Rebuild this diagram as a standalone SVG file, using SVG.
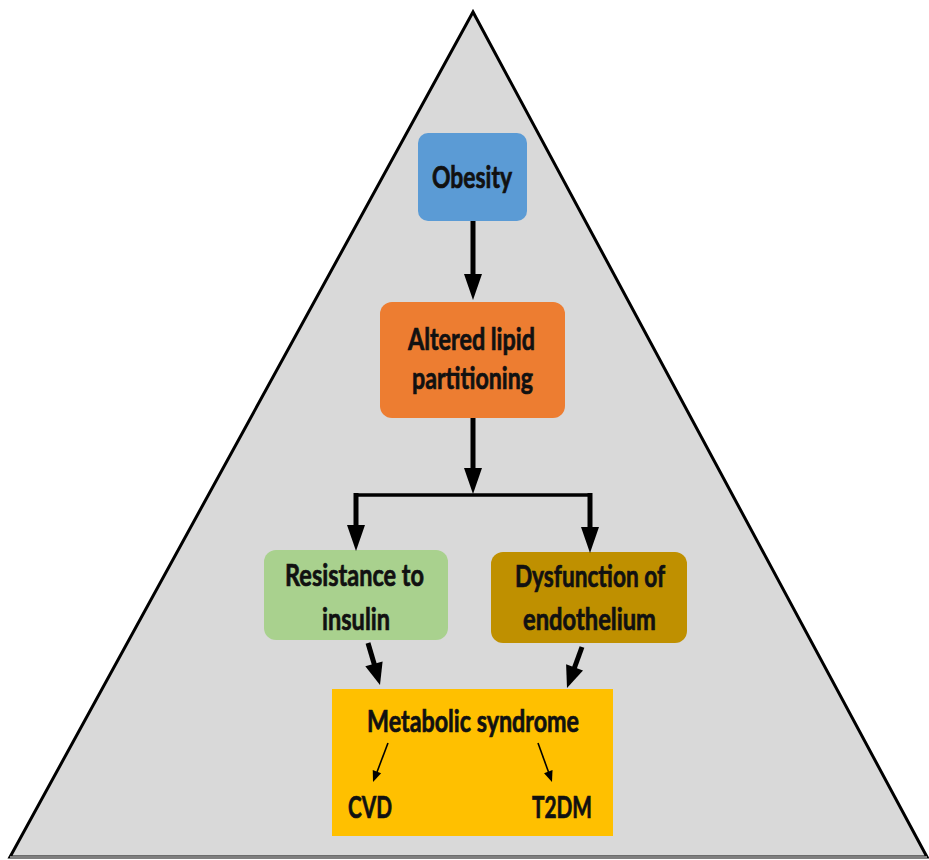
<svg xmlns="http://www.w3.org/2000/svg" width="929" height="860" viewBox="0 0 929 860">
  <style>
    .lbl { font-family: Lato, "Open Sans", "Liberation Sans", sans-serif; font-weight: bold; font-size: 30px; fill: #111; stroke: #111; stroke-width: 0.7; }
    .big { stroke: #000; stroke-width: 5; fill: none; }
    .small { stroke: #000; stroke-width: 1.6; fill: none; }
    .head { fill: #000; }
  </style>
  <rect width="929" height="860" fill="#fff"/>
  <g id="pyramid">
    <polygon points="473,12 10,857 927,857" fill="#D9D9D9" stroke="#000" stroke-width="3" stroke-linejoin="miter"/>
    <line x1="10" y1="857.5" x2="927" y2="857.5" stroke="#7f7f7f" stroke-width="3"/>
  </g>
  <g id="obesity">
    <rect x="418" y="133" width="109" height="88" rx="10" fill="#5B9BD5"/>
    <text class="lbl" x="432" y="188" textLength="80" lengthAdjust="spacingAndGlyphs">Obesity</text>
  </g>
  <g id="altered">
    <rect x="380" y="302" width="185" height="116" rx="12" fill="#ED7D31"/>
    <text class="lbl" x="408" y="350" textLength="127" lengthAdjust="spacingAndGlyphs">Altered lipid</text>
    <text class="lbl" x="412" y="389" textLength="121" lengthAdjust="spacingAndGlyphs">partitioning</text>
  </g>
  <g id="resistance">
    <rect x="264" y="550" width="184" height="90" rx="12" fill="#A9D18E"/>
    <text class="lbl" x="285" y="586" textLength="139" lengthAdjust="spacingAndGlyphs">Resistance to</text>
    <text class="lbl" x="322" y="630" textLength="68" lengthAdjust="spacingAndGlyphs">insulin</text>
  </g>
  <g id="dysfunction">
    <rect x="491" y="552" width="196" height="91" rx="12" fill="#BF9000"/>
    <text class="lbl" x="515" y="587" textLength="150" lengthAdjust="spacingAndGlyphs">Dysfunction of</text>
    <text class="lbl" x="523" y="630" textLength="133" lengthAdjust="spacingAndGlyphs">endothelium</text>
  </g>
  <g id="metabolic">
    <rect x="332" y="689" width="281" height="147" fill="#FFC000"/>
    <text class="lbl" x="367" y="732" textLength="212" lengthAdjust="spacingAndGlyphs">Metabolic syndrome</text>
    <text class="lbl" x="348" y="818" textLength="44" lengthAdjust="spacingAndGlyphs">CVD</text>
    <text class="lbl" x="532" y="818" textLength="60" lengthAdjust="spacingAndGlyphs">T2DM</text>
  </g>
  <g id="connectors">
    <path class="big" d="M473,221 L473,276"/>
    <polygon class="head" points="464,274 482,274 473,300"/>
    <path class="big" d="M473,418 L473,470"/>
    <polygon class="head" points="464,468 482,468 473,494"/>
    <path d="M356,495 L590,495" stroke="#000" stroke-width="3.5" fill="none"/>
    <path class="big" d="M356,493 L356,527"/>
    <polygon class="head" points="347,525 365,525 356,551"/>
    <path class="big" d="M590,493 L590,529"/>
    <polygon class="head" points="581,527 599,527 590,553"/>
    <path class="big" d="M368,643 L374.5,665"/>
    <polygon class="head" points="365.3,666.3 382.6,661.4 380,685"/>
    <path class="big" d="M582,647 L574,669"/>
    <polygon class="head" points="566.1,664.2 583,670.4 567,688"/>
    <path class="small" d="M388,743 L377,772"/>
    <polygon class="head" points="372.75,770.1 381.15,773.36 373,782"/>
    <path class="small" d="M538,743 L548.5,772"/>
    <polygon class="head" points="544.04,773.16 552.52,770.12 552,782"/>
  </g>
</svg>
